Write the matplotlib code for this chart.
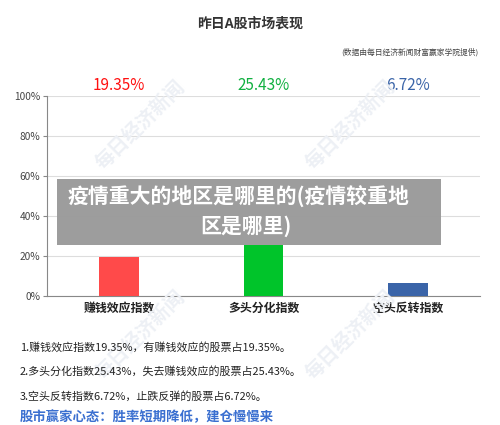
import matplotlib
matplotlib.use("Agg")
import matplotlib.pyplot as plt
from matplotlib.patches import Rectangle

plt.rcParams['font.family'] = ['Noto Sans CJK SC', 'DejaVu Sans']

categories = ["赚钱效应指数", "多头分化指数", "空头反转指数"]
values = [19.35, 25.43, 6.72]
value_labels = ["19.35%", "25.43%", "6.72%"]
bar_colors = ["#ff4a4a", "#00c42a", "#3a64a8"]
label_colors = ["#ff1010", "#10b040", "#3a64a8"]
yticks = [0, 20, 40, 60, 80, 100]
ytick_labels = ["0%", "20%", "40%", "60%", "80%", "100%"]
title = "昨日A股市场表现"
source = "(数据由每日经济新闻财富赢家学院提供)"
overlay_lines = ["疫情重大的地区是哪里的(疫情较重地", "区是哪里)"]
notes = [
    "1.赚钱效应指数19.35%，有赚钱效应的股票占19.35%。",
    "2.多头分化指数25.43%，失去赚钱效应的股票占25.43%。",
    "3.空头反转指数6.72%，止跌反弹的股票占6.72%。",
]
footer = "股市赢家心态：胜率短期降低，建仓慢慢来"
watermark = "每日经济新闻"

W, H = 500, 425
fig = plt.figure(figsize=(W / 100, H / 100), dpi=100)
fig.patch.set_facecolor("white")

def fx(px):
    return px / W

def fy(py):
    return 1 - py / H

# faint watermarks
for (x, y) in [(140, 125), (350, 125), (140, 335), (350, 335)]:
    fig.text(fx(x), fy(y), watermark, rotation=45, color="#edf0f5",
             fontsize=14, fontweight="bold", ha="center", va="center", zorder=0)

ax = fig.add_axes([fx(47), fy(296), fx(480) - fx(47), fy(96) - fy(296)])
ax.set_facecolor("none")
x = list(range(len(categories)))
ax.bar(x, values, width=0.277, color=bar_colors, zorder=3)
ax.set_xlim(-0.5, 2.5)
ax.set_ylim(0, 100)
ax.set_yticks(yticks)
ax.set_yticklabels(ytick_labels, fontsize=7.3, color="#444444")
ax.set_xticks(x)
ax.set_xticklabels(categories, fontsize=8.6, fontweight="bold", color="#222222")
ax.tick_params(axis="x", length=0, pad=4)
ax.tick_params(axis="y", length=3, color="#888888", pad=2)
ax.grid(axis="y", color="#dddddd", linewidth=0.8, zorder=0)
for s in ["top", "right"]:
    ax.spines[s].set_visible(False)
ax.spines["left"].set_color("#888888")
ax.spines["bottom"].set_color("#888888")

for xi, lab, c in zip(x, value_labels, label_colors):
    ax.text(xi, 105, lab, ha="center", va="center", fontsize=11, color=c,
            fontweight="medium", clip_on=False)

fig.text(fx(250), fy(24), title, ha="center", va="center", fontsize=10,
         fontweight="bold", color="#333333")
fig.text(fx(478), fy(52), source, ha="right", va="center", fontsize=5.6,
         color="#444444")

# overlay box
fig.patches.append(Rectangle((fx(57), fy(245)), fx(441) - fx(57), fy(179) - fy(245),
                             transform=fig.transFigure, facecolor="#9a9a9a",
                             alpha=0.97, edgecolor="none", zorder=5))
fig.text(fx(67), fy(197), overlay_lines[0], ha="left", va="center", fontsize=15,
         fontweight="bold", color="white", zorder=6)
fig.text(fx(246), fy(226), overlay_lines[1], ha="center", va="center", fontsize=15,
         fontweight="bold", color="white", zorder=6)

for i, line in enumerate(notes):
    fig.text(fx(20), fy(347 + i * 24.5), line, ha="left", va="center", fontsize=7.9,
             color="#222222")
fig.text(fx(20), fy(417), footer, ha="left", va="center", fontsize=9.6,
         fontweight="bold", color="#3a6fd0")

fig.savefig("out.png", dpi=100)
